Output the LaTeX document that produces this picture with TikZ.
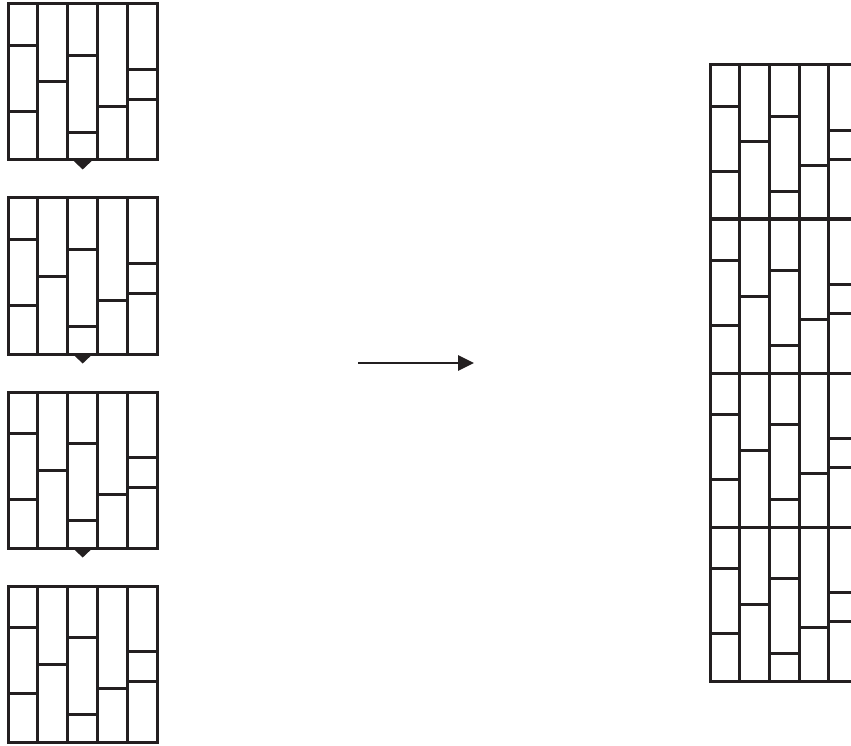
\documentclass[tikz,border=0pt]{standalone}
\usetikzlibrary{arrows.meta}
\definecolor{ink}{HTML}{231F20}
\tikzset{
  tileline/.style={draw=ink, line width=3pt},
  marker/.style={fill=ink, draw=none},
  flow/.style={draw=ink, line width=2.8pt, -{Triangle[length=16pt,width=15pt]}}
}
% #1 x, #2 y (top), #3 column width, #4 height
\newcommand\brickTile[4]{%
  \begin{scope}[shift={(#1,#2)}, xscale=#3, yscale=#4]
    \draw[tileline] (0,0) rectangle (5,1);
    \foreach \c in {1,2,3,4} \draw[tileline] (\c,0) -- (\c,1);
    \draw[tileline] (0,0.269) -- (1,0.269);
    \draw[tileline] (0,0.692) -- (1,0.692);
    \draw[tileline] (1,0.500) -- (2,0.500);
    \draw[tileline] (2,0.333) -- (3,0.333);
    \draw[tileline] (2,0.821) -- (3,0.821);
    \draw[tileline] (3,0.654) -- (4,0.654);
    \draw[tileline] (4,0.423) -- (5,0.423);
    \draw[tileline] (4,0.615) -- (5,0.615);
  \end{scope}}
\newcommand\tileMarker[2]{%
  \fill[marker] (#1-10,#2) -- (#1+10,#2) -- (#1,#2+9.5) -- cycle;}
\begin{document}
\begin{tikzpicture}[x=1pt,y=-1pt]
  \useasboundingbox (0,0) rectangle (851,746);
  \clip (0,0) rectangle (851,746);
  % left column of tiles
  \foreach \t in {4,198,392,586} \brickTile{8}{\t}{29.86}{156};
  \foreach \t in {160,354,548} \tileMarker{82.7}{\t};
  % arrow
  \coordinate (arrowStart) at (358,363);
  \coordinate (arrowEnd) at (474,363);
  \draw[flow] (arrowStart) -- (arrowEnd);
  % right stacked tiles
  \foreach \t in {65,219,373,527} \brickTile{710}{\t}{29.7}{154};
\end{tikzpicture}
\end{document}
